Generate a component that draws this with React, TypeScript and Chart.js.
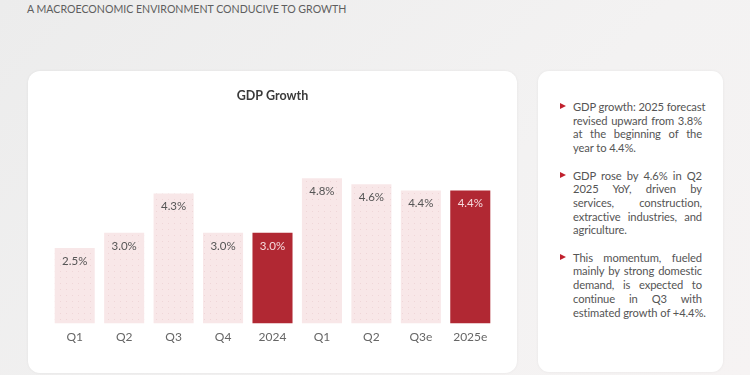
import React, { useEffect, useRef } from "react";
import { Chart, registerables } from "chart.js";

Chart.register(...registerables);

const categories = ["Q1", "Q2", "Q3", "Q4", "2024", "Q1", "Q2", "Q3e", "2025e"];
const growth = [2.5, 3.0, 4.3, 3.0, 3.0, 4.8, 4.6, 4.4, 4.4];
const highlighted = [false, false, false, false, true, false, false, false, true];
const valueLabels = ["2.5%", "3.0%", "4.3%", "3.0%", "3.0%", "4.8%", "4.6%", "4.4%", "4.4%"];

const headerText = "A MACROECONOMIC ENVIRONMENT CONDUCIVE TO GROWTH";
const chartTitle = "GDP Growth";
const bulletLines = [
  ["GDP growth: 2025 forecast", "revised upward from 3.8%", "at the beginning of the", "year to 4.4%."],
  ["GDP rose by 4.6% in Q2", "2025 YoY, driven by", "services, construction,", "extractive industries, and", "agriculture."],
  ["This momentum, fueled", "mainly by strong domestic", "demand, is expected to", "continue in Q3 with", "estimated growth of +4.4%."],
];

const FONT = "Lato, 'Open Sans', sans-serif";
const PALE = "#f8e7e8";
const DARK = "#b12833";

function makePattern(): CanvasPattern | string {
  const c = document.createElement("canvas");
  c.width = 6;
  c.height = 6;
  const ctx = c.getContext("2d");
  if (!ctx) return PALE;
  ctx.fillStyle = PALE;
  ctx.fillRect(0, 0, 6, 6);
  ctx.fillStyle = "#efd6d8";
  ctx.fillRect(2, 2, 1, 1);
  return ctx.createPattern(c, "repeat") || PALE;
}

const labelPlugin = {
  id: "valueLabels",
  afterDatasetsDraw(chart: any) {
    const ctx = chart.ctx;
    const meta = chart.getDatasetMeta(0);
    ctx.save();
    ctx.font = `400 11.5px ${FONT}`;
    ctx.textAlign = "center";
    ctx.textBaseline = "middle";
    meta.data.forEach((bar: any, i: number) => {
      ctx.fillStyle = highlighted[i] ? "#f6dadd" : "#555555";
      ctx.fillText(valueLabels[i], bar.x, bar.y + 13);
    });
    ctx.restore();
  },
};

function GdpChart() {
  const ref = useRef<HTMLCanvasElement>(null);
  useEffect(() => {
    if (!ref.current) return;
    const pattern = makePattern();
    const chart = new Chart(ref.current, {
      type: "bar",
      data: {
        labels: categories,
        datasets: [
          {
            data: growth,
            backgroundColor: highlighted.map((h) => (h ? DARK : pattern)) as any,
            borderWidth: 0,
            barPercentage: 0.81,
            categoryPercentage: 1,
          },
        ],
      },
      options: {
        animation: false,
        responsive: false,
        maintainAspectRatio: false,
        layout: { padding: { left: 22, right: 22, top: 0, bottom: 25 } },
        plugins: {
          legend: { display: false },
          tooltip: { enabled: false },
          title: {
            display: true,
            text: chartTitle,
            color: "#3a3a3a",
            font: { family: FONT, size: 12.5, weight: "bold" },
            padding: { top: 17.5, bottom: 38.5 },
          },
        },
        scales: {
          x: {
            grid: { display: false, drawTicks: false },
            border: { display: false },
            ticks: { color: "#666666", font: { family: FONT, size: 12 }, padding: 6 },
          },
          y: { display: false, min: 0, max: 6 },
        },
      },
      plugins: [labelPlugin],
    });
    return () => chart.destroy();
  }, []);
  return <canvas ref={ref} width={489} height={304} style={{ position: "absolute", left: 0, top: 0 }} />;
}

export default function App() {
  return (
    <div
      style={{
        position: "fixed",
        left: 0,
        top: 0,
        width: 750,
        height: 375,
        overflow: "hidden",
        background: "linear-gradient(135deg, #ececec 0%, #f3f2f2 60%, #f6f3f3 100%)",
        fontFamily: FONT,
      }}
    >
      <div
        style={{
          position: "absolute",
          left: 27,
          top: 3,
          fontSize: 10.6,
          color: "#5e5e5e",
          whiteSpace: "nowrap",
        }}
      >
        {headerText}
      </div>
      <div
        style={{
          position: "absolute",
          left: 28,
          top: 71,
          width: 489,
          height: 302,
          background: "#ffffff",
          borderRadius: 12,
          boxShadow: "0 0 3px rgba(0,0,0,0.06)",
          overflow: "hidden",
        }}
      >
        <GdpChart />
      </div>
      <div
        style={{
          position: "absolute",
          left: 538,
          top: 71,
          width: 185,
          height: 301,
          background: "#ffffff",
          borderRadius: 11,
          boxShadow: "0 0 3px rgba(0,0,0,0.06)",
        }}
      >
        {bulletLines.map((lines, i) => (
          <div
            key={i}
            style={{
              position: "relative",
              marginLeft: 35,
              marginTop: i === 0 ? 29 : 13.7,
              width: 129,
              fontSize: 11.2,
              lineHeight: "13.7px",
              letterSpacing: -0.1,
              color: "#555555",
            }}
          >
            <span
              style={{
                position: "absolute",
                left: -13,
                top: 3,
                width: 0,
                height: 0,
                borderTop: "3.5px solid transparent",
                borderBottom: "3.5px solid transparent",
                borderLeft: "6px solid #c0202d",
              }}
            />
            {lines.map((ln, j) => {
              const last = j === lines.length - 1;
              return (
                <div
                  key={j}
                  style={{
                    whiteSpace: "nowrap",
                    textAlign: last ? "left" : "justify",
                    textAlignLast: last ? "left" : "justify",
                  } as React.CSSProperties}
                >
                  {ln}
                </div>
              );
            })}
          </div>
        ))}
      </div>
    </div>
  );
}
